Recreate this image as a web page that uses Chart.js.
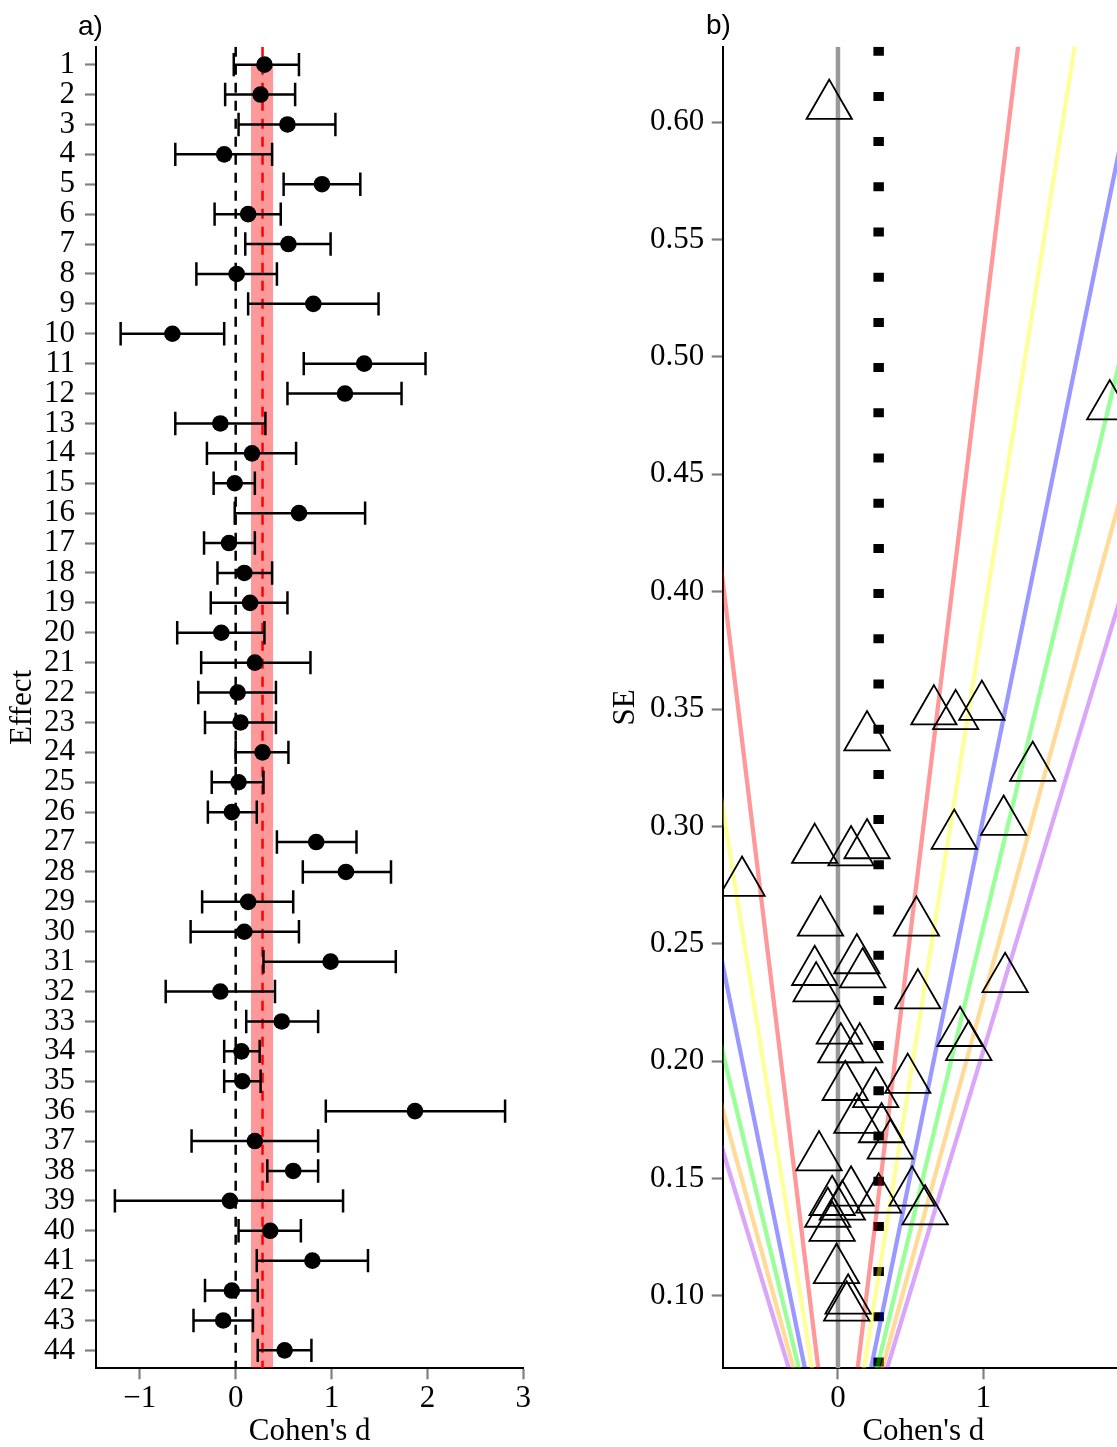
<!DOCTYPE html>
<html>
<head>
<meta charset="utf-8">
<script src="https://cdn.jsdelivr.net/npm/chart.js@4/dist/chart.umd.min.js"></script>
<style>
  html, body { margin: 0; padding: 0; background: #ffffff; overflow: hidden; width: 1117px; height: 1447px; }
  #wa { position: absolute; left: 0; top: 0; width: 560px; height: 1447px; }
  #wb { position: absolute; left: 560px; top: 0; width: 564px; height: 1447px; }
  canvas { display: block; }
</style>
</head>
<body>
<div id="wa"><canvas id="ca" width="560" height="1447" style="width:560px;height:1447px"></canvas></div>
<div id="wb"><canvas id="cb" width="564" height="1447" style="width:564px;height:1447px"></canvas></div>
<script>
// ---------------- data ----------------
const effectLabels = ['1','2','3','4','5','6','7','8','9','10','11','12','13','14','15','16','17','18','19','20','21','22',
                      '23','24','25','26','27','28','29','30','31','32','33','34','35','36','37','38','39','40','41','42','43','44'];
const cohenD = [0.30, 0.26, 0.54, -0.12, 0.90, 0.13, 0.55, 0.01, 0.81, -0.66, 1.34, 1.14, -0.16, 0.17, -0.01, 0.66,
                -0.07, 0.09, 0.15, -0.15, 0.20, 0.02, 0.05, 0.28, 0.03, -0.04, 0.84, 1.15, 0.13, 0.09, 0.99, -0.16,
                0.48, 0.06, 0.07, 1.87, 0.20, 0.60, -0.06, 0.36, 0.80, -0.04, -0.13, 0.51];
const ciLower = [-0.02, -0.11, 0.03, -0.63, 0.50, -0.22, 0.10, -0.41, 0.13, -1.20, 0.71, 0.54, -0.63, -0.30, -0.23, -0.01,
                 -0.33, -0.19, -0.26, -0.61, -0.36, -0.39, -0.32, 0.00, -0.25, -0.29, 0.43, 0.70, -0.35, -0.47, 0.29, -0.73,
                 0.11, -0.12, -0.12, 0.94, -0.46, 0.33, -1.26, 0.03, 0.22, -0.32, -0.44, 0.23];
const ciUpper = [0.66, 0.62, 1.04, 0.38, 1.30, 0.47, 0.99, 0.43, 1.49, -0.12, 1.98, 1.73, 0.31, 0.63, 0.20, 1.35,
                 0.20, 0.38, 0.54, 0.30, 0.78, 0.42, 0.42, 0.55, 0.29, 0.22, 1.26, 1.62, 0.60, 0.66, 1.67, 0.41,
                 0.86, 0.25, 0.26, 2.81, 0.86, 0.86, 1.12, 0.68, 1.38, 0.23, 0.18, 0.79];
const standardErrors = [0.171, 0.186, 0.259, 0.259, 0.206, 0.175, 0.228, 0.213, 0.347, 0.276, 0.325, 0.302, 0.238, 0.237, 0.111, 0.349,
                        0.135, 0.144, 0.205, 0.231, 0.292, 0.205, 0.189, 0.141, 0.138, 0.129, 0.212, 0.235, 0.243, 0.289, 0.351, 0.290,
                        0.192, 0.095, 0.098, 0.479, 0.338, 0.136, 0.607, 0.164, 0.296, 0.140, 0.159, 0.144];
const pooledEstimate = 0.28;
const pooledCiLower = 0.16;
const pooledCiUpper = 0.39;
const contourZ = [1.96, 2.576, 3.291, 3.891, 4.417, 4.892];
const contourColors = ['rgba(255,0,0,0.4)', 'rgba(255,255,0,0.4)', 'rgba(0,0,255,0.4)',
                       'rgba(0,255,0,0.4)', 'rgba(255,165,0,0.4)', 'rgba(160,32,240,0.4)'];
const xTicksA = [-1, 0, 1, 2, 3];
const xTicksB = [0, 1];
const yTicksB = [0.10, 0.15, 0.20, 0.25, 0.30, 0.35, 0.40, 0.45, 0.50, 0.55, 0.60];

// axis ranges
const xMinA = -1.457, xMaxA = 3.0, yMinA = 0.4, yMaxA = 44.6;
const xMinB = -0.793, xMaxB = 1.968, yMinB = 0.0691, yMaxB = 0.6322;
const contourTopSE = 0.7;

// ---------------- helpers ----------------
const serif = 'Liberation Serif, Times New Roman, serif';
const minusFmt = v => (v < 0 ? '\u2212' + Math.abs(v) : String(v));

const panelLabelPlugin = {
  id: 'panelLabel',
  afterDraw(chart, args, opts) {
    const ctx = chart.ctx;
    ctx.save();
    ctx.font = '28px "Liberation Sans", Arial, sans-serif';
    ctx.fillStyle = '#000';
    ctx.textAlign = 'left';
    ctx.textBaseline = 'alphabetic';
    ctx.fillText(opts.text, opts.x, opts.y);
    ctx.restore();
  }
};

function axisCommon(extra) {
  return Object.assign({
    type: 'linear',
    grid: { display: true, drawOnChartArea: false, drawTicks: true, tickLength: 11, tickWidth: 2.2,
            tickColor: '#808080', color: '#808080' },
    border: { display: true, color: '#000000', width: 2 },
  }, extra);
}

// ---------------- panel a ----------------
const rows = effectLabels.map((_, i) => i + 1);
const barData = [];
const capData = [];
rows.forEach((r, i) => {
  barData.push({ x: ciLower[i], y: r }, { x: ciUpper[i], y: r }, { x: null, y: null });
  capData.push({ x: ciLower[i], y: r }, { x: ciUpper[i], y: r });
});
const pointData = rows.map((r, i) => ({ x: cohenD[i], y: r }));

new Chart(document.getElementById('ca'), {
  type: 'scatter',
  data: {
    datasets: [
      { // pooled CI band
        data: [{ x: (pooledCiLower + pooledCiUpper) / 2, y: 1 }, { x: (pooledCiLower + pooledCiUpper) / 2, y: yMaxA }],
        showLine: true, pointRadius: 0, borderColor: 'rgba(255,0,0,0.4)', borderCapStyle: 'butt',
        borderWidth: (c) => {
          const s = c.chart.scales.x;
          return s ? Math.abs(s.getPixelForValue(pooledCiUpper) - s.getPixelForValue(pooledCiLower)) : 1;
        },
        order: 6
      },
      { // zero line
        data: [{ x: 0, y: yMinA }, { x: 0, y: yMaxA }],
        showLine: true, pointRadius: 0, borderColor: '#000', borderWidth: 2.5, borderDash: [10, 8], order: 5
      },
      { // pooled estimate line
        data: [{ x: pooledEstimate, y: yMinA }, { x: pooledEstimate, y: yMaxA }],
        showLine: true, pointRadius: 0, borderColor: '#ff0000', borderWidth: 2.5, borderDash: [10, 8], order: 4
      },
      { // CI bars
        data: barData, showLine: true, spanGaps: false, pointRadius: 0, borderColor: '#000', borderWidth: 2.5, order: 3
      },
      { // CI caps
        data: capData, showLine: false, pointStyle: 'line', rotation: 90, pointRadius: 11.7,
        borderColor: '#000', pointBorderColor: '#000', pointBorderWidth: 2.5, borderWidth: 2.5, order: 2
      },
      { // effect sizes
        data: pointData, showLine: false, pointStyle: 'circle', pointRadius: 8.3,
        pointBackgroundColor: '#000', pointBorderWidth: 0, order: 1
      }
    ]
  },
  options: {
    responsive: false, animation: false, events: [],
    layout: { padding: { left: 0, right: 36.7, top: 46.7, bottom: 0 }, autoPadding: false },
    plugins: { legend: { display: false }, tooltip: { enabled: false }, panelLabel: { text: 'a)', x: 78, y: 35 } },
    scales: {
      x: axisCommon({
        position: 'bottom', min: xMinA, max: xMaxA,
        afterBuildTicks: s => { s.ticks = xTicksA.map(v => ({ value: v })); },
        afterFit: s => { s.height = 78.7; s.paddingLeft = 0; s.paddingRight = 0; },
        ticks: { autoSkip: false, maxRotation: 0, padding: 1, color: '#000', font: { family: serif, size: 31 }, callback: v => minusFmt(v) },
        title: { display: true, text: "Cohen's d", color: '#000', font: { family: serif, size: 31, lineHeight: 1 }, padding: { top: 0, bottom: 0 } }
      }),
      y: axisCommon({
        position: 'left', min: yMinA, max: yMaxA, reverse: true,
        afterBuildTicks: s => { s.ticks = rows.map(v => ({ value: v })); },
        afterFit: s => { s.width = 96; s.paddingTop = 0; s.paddingBottom = 0; },
        ticks: { autoSkip: false, padding: 10, color: '#000', font: { family: serif, size: 31 }, callback: v => effectLabels[v - 1] },
        title: { display: true, text: 'Effect', color: '#000', font: { family: serif, size: 31, lineHeight: 1 }, padding: { top: 7, bottom: 0 } }
      })
    }
  },
  plugins: [panelLabelPlugin]
});

// ---------------- panel b ----------------
const funnelData = cohenD.map((d, i) => ({ x: d, y: standardErrors[i] }));
const contourSets = contourZ.map((z, k) => ({
  data: [{ x: -z * contourTopSE, y: contourTopSE }, { x: 0, y: 0 }, { x: z * contourTopSE, y: contourTopSE }],
  showLine: true, pointRadius: 0, borderColor: contourColors[k], borderWidth: 4.3, order: 8 - k
}));

new Chart(document.getElementById('cb'), {
  type: 'scatter',
  data: {
    datasets: [
      { // zero reference line
        data: [{ x: 0, y: yMinB }, { x: 0, y: yMaxB }],
        showLine: true, pointRadius: 0, borderColor: '#999999', borderWidth: 4.5, order: 20
      },
      { // pooled estimate dotted line
        data: [{ x: pooledEstimate, y: yMaxB }, { x: pooledEstimate, y: yMinB }],
        showLine: true, pointRadius: 0, borderColor: '#000', borderWidth: 10.5, borderDash: [9, 36.2], order: 19
      },
      ...contourSets,
      { // studies
        data: funnelData, showLine: false, pointStyle: 'triangle', pointRadius: 26.2,
        pointBorderColor: '#000', pointBackgroundColor: 'rgba(0,0,0,0)', pointBorderWidth: 1.8, order: 0
      }
    ]
  },
  options: {
    responsive: false, animation: false, events: [],
    layout: { padding: { left: 0, right: 0, top: 46.7, bottom: 0 }, autoPadding: false },
    plugins: { legend: { display: false }, tooltip: { enabled: false }, panelLabel: { text: 'b)', x: 146, y: 34 } },
    scales: {
      x: axisCommon({
        position: 'bottom', min: xMinB, max: xMaxB,
        afterBuildTicks: s => { s.ticks = xTicksB.map(v => ({ value: v })); },
        afterFit: s => { s.height = 78.7; s.paddingLeft = 0; s.paddingRight = 0; },
        ticks: { autoSkip: false, maxRotation: 0, padding: 1, color: '#000', font: { family: serif, size: 31 }, callback: v => minusFmt(v) },
        title: { display: true, text: "Cohen's d", color: '#000', font: { family: serif, size: 31, lineHeight: 1 }, padding: { top: 0, bottom: 0 } }
      }),
      y: axisCommon({
        position: 'left', min: yMinB, max: yMaxB,
        afterBuildTicks: s => { s.ticks = yTicksB.map(v => ({ value: v })); },
        afterFit: s => { s.width = 162.7; s.paddingTop = 0; s.paddingBottom = 0; },
        ticks: { autoSkip: false, padding: 7.5, color: '#000', font: { family: serif, size: 31 }, callback: v => Number(v).toFixed(2) },
        title: { display: true, text: 'SE', color: '#000', font: { family: serif, size: 31, lineHeight: 1 }, padding: { top: 50, bottom: 0 } }
      })
    }
  },
  plugins: [panelLabelPlugin]
});
</script>
</body>
</html>
